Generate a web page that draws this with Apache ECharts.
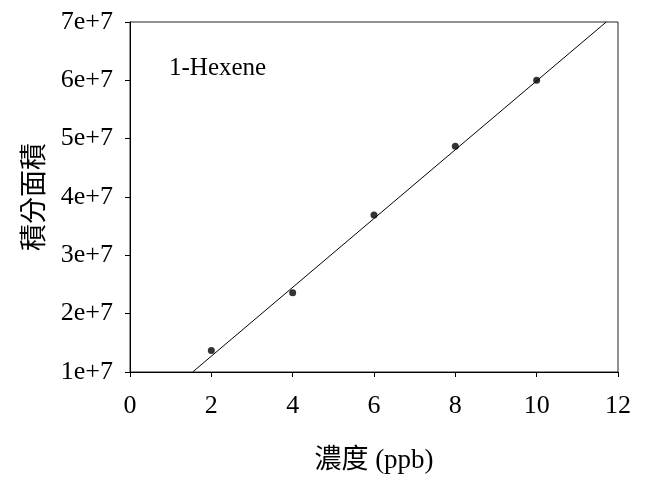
<!DOCTYPE html>
<html>
<head>
<meta charset="utf-8">
<script src="https://cdn.jsdelivr.net/npm/echarts@6/dist/echarts.min.js"></script>
<style>html,body{margin:0;padding:0;background:#fff;}#c{width:649px;height:479px;}</style>
</head>
<body>
<div id="c"></div>
<script>
const concentrations = [2, 4, 6, 8, 10];
const areas = [1.37e7, 2.36e7, 3.69e7, 4.87e7, 6.0e7];
const fitLineX = [1.54, 11.71];
const fitLineY = [1.0e7, 7.0e7];
const xTicks = [0, 2, 4, 6, 8, 10, 12];
const yTicks = ['1e+7', '2e+7', '3e+7', '4e+7', '5e+7', '6e+7', '7e+7'];
const compoundLabel = '1-Hexene';
const xTitle = '濃度 (ppb)';
const yTitle = '積分面積';

const serif = '"Liberation Serif", "Times New Roman", serif';
const cjk = '"Liberation Serif", "Noto Sans CJK TC", serif';

const chart = echarts.init(document.getElementById('c'), null, {renderer: 'canvas'});
chart.setOption({
  animation: false,
  backgroundColor: '#fff',
  grid: {left: 130, top: 22, right: 31, bottom: 106, show: true, borderColor: '#222', borderWidth: 1, backgroundColor: 'transparent'},
  xAxis: {
    type: 'value', min: xTicks[0], max: xTicks[xTicks.length - 1], interval: 2,
    name: xTitle, nameLocation: 'middle', nameGap: 75,
    nameTextStyle: {fontFamily: cjk, fontSize: 27, color: '#000'},
    axisLine: {show: true, onZero: false, lineStyle: {color: '#000', width: 1}},
    axisTick: {show: true, inside: false, length: 5, lineStyle: {color: '#000'}},
    axisLabel: {fontFamily: serif, fontSize: 26, color: '#000', margin: 21},
    splitLine: {show: false}
  },
  yAxis: {
    type: 'value', min: 1e7, max: 7e7, interval: 1e7,
    name: yTitle, nameLocation: 'middle', nameGap: 73, nameRotate: 90,
    nameTextStyle: {fontFamily: cjk, fontSize: 27, color: '#000'},
    axisLine: {show: true, onZero: false, lineStyle: {color: '#000', width: 1}},
    axisTick: {show: true, inside: false, length: 5, lineStyle: {color: '#000'}},
    axisLabel: {fontFamily: serif, fontSize: 26, color: '#000', margin: 17,
      formatter: function (v) { return yTicks[Math.round(v / 1e7) - 1]; }},
    splitLine: {show: false}
  },
  graphic: [{
    type: 'text', left: 169, top: 56,
    style: {text: compoundLabel, font: '25px ' + serif, fill: '#000'}
  }],
  series: [
    {
      type: 'line', data: fitLineX.map((x, i) => [x, fitLineY[i]]),
      showSymbol: false, symbol: 'none', lineStyle: {color: '#000', width: 1}, silent: true
    },
    {
      type: 'scatter', data: concentrations.map((x, i) => [x, areas[i]]),
      symbol: 'circle', symbolSize: 7, itemStyle: {color: '#000'}
    }
  ]
});
</script>
</body>
</html>
